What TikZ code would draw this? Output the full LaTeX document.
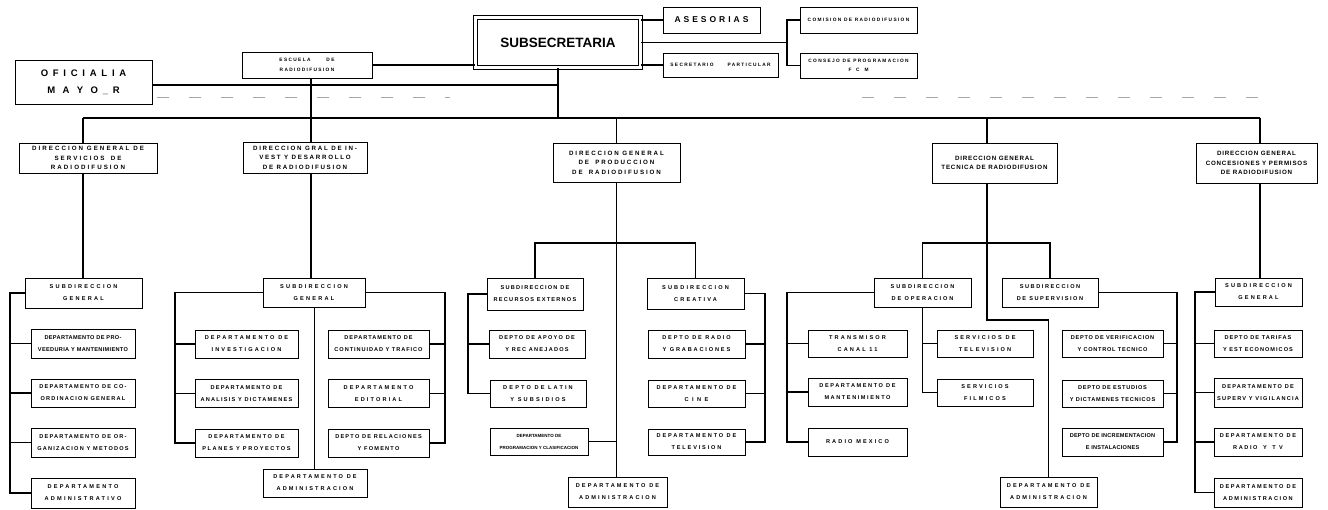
\documentclass[tikz,border=0pt]{standalone}
\usepackage{fontspec}
\newfontfamily\chartfont{Liberation Sans}
\begin{document}
\begin{tikzpicture}[x=1pt,y=-1pt,
  tracking/.style={font={\chartfont\bfseries\fontsize{5.6}{12}\selectfont\addfontfeature{LetterSpace=#1}}},
  tracking/.default=30,
  dtracking/.style={font={\chartfont\bfseries\fontsize{6.2}{9.5}\selectfont\addfontfeature{LetterSpace=#1}}},
  dtracking/.default=30,
  stracking/.style={font={\chartfont\bfseries\fontsize{4.8}{9.5}\selectfont\addfontfeature{LetterSpace=#1}}},
  stracking/.default=28,
  orgbox/.style={draw, line width=0.9pt, inner sep=0pt, align=center, tracking},
  dirbox/.style={orgbox, dtracking},
  smallbox/.style={orgbox, stracking},
  link/.style={line width=1.8pt},
  thinlink/.style={line width=0.9pt},
  faint/.style={gray!70, line width=0.7pt, dash pattern=on 12pt off 20pt}]
\useasboundingbox[fill=white] (0,0) rectangle (1328,509);

% ---------- top level ----------
\node[draw, double, double distance=3pt, line width=0.9pt, minimum width=165, minimum height=50,
  font={\chartfont\bfseries\fontsize{13.5}{14}\selectfont}] (subsec) at (558,42.5) {SUBSECRETARIA};
\node[orgbox, minimum width=97, minimum height=26,
  font={\chartfont\bfseries\fontsize{8.5}{10}\selectfont\addfontfeature{LetterSpace=35}}] (ases) at (711.5,20) {ASESORIAS};
\node[smallbox, minimum width=115, minimum height=24] (secpart) at (720.5,65) {SECRETARIO\hspace{14pt}PARTICULAR};
\node[smallbox, minimum width=117, minimum height=26] (comision) at (858.5,20) {COMISION DE RADIODIFUSION};
\node[smallbox, minimum width=117, minimum height=25] (consejo) at (858.5,65.5) {CONSEJO DE PROGRAMACION\\F\quad C\quad M};
\node[smallbox, minimum width=130, minimum height=26] (escuela) at (307,65) {ESCUELA\hspace{16pt}DE\\RADIODIFUSION};
\node[orgbox, minimum width=137, minimum height=44,
  font={\chartfont\bfseries\fontsize{9.5}{17}\selectfont\addfontfeature{LetterSpace=50}}] (oficialia) at (83.5,82) {OFICIALIA\\M A Y O\_R};

\coordinate (bus) at (0,118);
\coordinate (v1) at (83,0);
\coordinate (v2) at (311,0);
\coordinate (v3) at (616.5,0);
\coordinate (v4) at (987,0);
\coordinate (v5) at (1260,0);
\coordinate (cj) at (787,42.5);

% ---------- directorates ----------
\node[dirbox, dtracking=33, minimum width=138, minimum height=30] (d1) at (88,158) {DIRECCION GENERAL DE\\SERVICIOS\quad DE\\RADIODIFUSION};
\node[dirbox, dtracking=28, minimum width=124, minimum height=31] (d2) at (305,157.5) {DIRECCION GRAL DE IN-\\VEST Y DESARROLLO\\DE RADIODIFUSION};
\node[dirbox, minimum width=127, minimum height=39] (d3) at (616.5,162.5) {DIRECCION GENERAL\\DE\quad PRODUCCION\\DE\quad RADIODIFUSION};
\node[dirbox, dtracking=13, minimum width=125, minimum height=40] (d4) at (994.5,163) {DIRECCION GENERAL\\TECNICA DE RADIODIFUSION};
\node[dirbox, dtracking=13, minimum width=121, minimum height=40] (d5) at (1256.5,163) {DIRECCION GENERAL\\CONCESIONES Y PERMISOS\\DE RADIODIFUSION};

% ---------- column 1 ----------
\node[orgbox, tracking=40, minimum width=117, minimum height=30] (c1s) at (83.5,293) {SUBDIRECCION\\GENERAL};
\node[orgbox, tracking=6, minimum width=104, minimum height=29] (c1a) at (83,343.5) {DEPARTAMENTO DE PRO-\\VEEDURIA Y MANTENIMIENTO};
\node[orgbox, tracking=22, minimum width=104, minimum height=28] (c1b) at (83,393) {DEPARTAMENTO DE CO-\\ORDINACION GENERAL};
\node[orgbox, tracking=22, minimum width=104, minimum height=29] (c1c) at (83,442.5) {DEPARTAMENTO DE OR-\\GANIZACION Y METODOS};
\node[orgbox, tracking=40, minimum width=104, minimum height=30] (c1d) at (83,493) {DEPARTAMENTO\\ADMINISTRATIVO};

% ---------- column 2 ----------
\node[orgbox, tracking=40, minimum width=102, minimum height=29] (c2s) at (314,292.5) {SUBDIRECCION\\GENERAL};
\node[orgbox, tracking=38, minimum width=103, minimum height=28] (c2l1) at (246.5,344) {DEPARTAMENTO DE\\INVESTIGACION};
\node[orgbox, tracking=22, minimum width=103, minimum height=28] (c2l2) at (246.5,393.5) {DEPARTAMENTO DE\\ANALISIS Y DICTAMENES};
\node[orgbox, tracking=28, minimum width=103, minimum height=28] (c2l3) at (246.5,443) {DEPARTAMENTO DE\\PLANES Y PROYECTOS};
\node[orgbox, tracking=17, minimum width=101, minimum height=28] (c2r1) at (378.5,344) {DEPARTAMENTO DE\\CONTINUIDAD Y TRAFICO};
\node[orgbox, tracking=38, minimum width=101, minimum height=28] (c2r2) at (378.5,393.5) {DEPARTAMENTO\\EDITORIAL};
\node[orgbox, tracking=22, minimum width=101, minimum height=28] (c2r3) at (378.5,443) {DEPTO DE RELACIONES\\Y FOMENTO};
\node[orgbox, tracking=38, minimum width=104, minimum height=28] (c2adm) at (315,483) {DEPARTAMENTO DE\\ADMINISTRACION};

% ---------- column 3 ----------
\node[orgbox, tracking=22, minimum width=96, minimum height=32] (c3l) at (535,294) {SUBDIRECCION DE\\RECURSOS EXTERNOS};
\node[orgbox, tracking=22, minimum width=96, minimum height=28] (c3l1) at (537,344) {DEPTO DE APOYO DE\\Y REC ANEJADOS};
\node[orgbox, tracking=38, minimum width=96, minimum height=27] (c3l2) at (538,393.5) {DEPTO DE LATIN\\Y SUBSIDIOS};
\node[orgbox, font={\chartfont\bfseries\fontsize{4.5}{12}\selectfont}, minimum width=98, minimum height=27] (c3l3) at (539,441.5) {DEPARTAMENTO DE\\PROGRAMACION Y CLASIFICACION};
\node[orgbox, tracking=38, minimum width=97, minimum height=31] (c3r) at (695.5,293.5) {SUBDIRECCION\\CREATIVA};
\node[orgbox, tracking=33, minimum width=97, minimum height=28] (c3r1) at (696.5,344) {DEPTO DE RADIO\\Y GRABACIONES};
\node[orgbox, tracking=33, minimum width=97, minimum height=27] (c3r2) at (696.5,393.5) {DEPARTAMENTO DE\\C I N E};
\node[orgbox, tracking=33, minimum width=97, minimum height=26] (c3r3) at (696.5,442) {DEPARTAMENTO DE\\TELEVISION};
\node[orgbox, tracking=38, minimum width=99, minimum height=30] (c3adm) at (617.5,492) {DEPARTAMENTO DE\\ADMINISTRACION};

% ---------- column 4 ----------
\node[orgbox, tracking=33, minimum width=97, minimum height=29] (c4o) at (922.5,292.5) {SUBDIRECCION\\DE OPERACION};
\node[orgbox, tracking=28, minimum width=96, minimum height=29] (c4s) at (1050,292.5) {SUBDIRECCION\\DE SUPERVISION};
\node[orgbox, tracking=38, minimum width=99, minimum height=27] (c4l1) at (857.5,343.5) {TRANSMISOR\\CANAL 11};
\node[orgbox, tracking=28, minimum width=99, minimum height=28] (c4l2) at (857.5,392) {DEPARTAMENTO DE\\MANTENIMIENTO};
\node[orgbox, tracking=38, minimum width=99, minimum height=28] (c4l3) at (857.5,442) {RADIO MEXICO};
\node[orgbox, tracking=38, minimum width=96, minimum height=27] (c4m1) at (985,343.5) {SERVICIOS DE\\TELEVISION};
\node[orgbox, tracking=38, minimum width=96, minimum height=27] (c4m2) at (985,392.5) {SERVICIOS\\FILMICOS};
\node[orgbox, tracking=13, minimum width=101, minimum height=27] (c4r1) at (1112.5,343.5) {DEPTO DE VERIFICACION\\Y CONTROL TECNICO};
\node[orgbox, tracking=13, minimum width=101, minimum height=27] (c4r2) at (1112.5,393.5) {DEPTO DE ESTUDIOS\\Y DICTAMENES TECNICOS};
\node[orgbox, tracking=4, minimum width=101, minimum height=28] (c4r3) at (1112.5,442) {DEPTO DE INCREMENTACION\\E INSTALACIONES};
\node[orgbox, tracking=38, minimum width=97, minimum height=30] (c4adm) at (1048.5,492) {DEPARTAMENTO DE\\ADMINISTRACION};

% ---------- column 5 ----------
\node[orgbox, tracking=38, minimum width=87, minimum height=28] (c5s) at (1258.5,292) {SUBDIRECCION\\GENERAL};
\node[orgbox, tracking=18, minimum width=88, minimum height=27] (c5a) at (1258,343.5) {DEPTO DE TARIFAS\\Y EST ECONOMICOS};
\node[orgbox, tracking=22, minimum width=88, minimum height=29] (c5b) at (1258,392.5) {DEPARTAMENTO DE\\SUPERV Y VIGILANCIA};
\node[orgbox, tracking=28, minimum width=88, minimum height=28] (c5c) at (1258,442) {DEPARTAMENTO DE\\RADIO\quad Y\quad T V};
\node[orgbox, tracking=28, minimum width=88, minimum height=29] (c5d) at (1258,492.5) {DEPARTAMENTO DE\\ADMINISTRACION};

% ---------- top connectors ----------
\draw[link] (subsec.east |- ases.west) -- (ases.west);
\draw[link] (subsec.east |- secpart.west) -- (secpart.west);
\draw[link] (subsec.east) -- (cj);
\draw[link] (comision.west) -- (comision.west -| cj) |- (consejo.west);
\draw[link] (escuela.east) -- (escuela.east -| subsec.west);
\draw[link] (subsec.south) -- (subsec.south |- bus);
\draw[link] ([yshift=-3pt]oficialia.east) -- ([yshift=-3pt]oficialia.east -| subsec.south);
\draw[link] (escuela.south -| v2) -- (v2 |- d2.north);
\draw[link] (v1 |- bus) -- (v5 |- bus);
\draw[faint] (157,97) -- (450,97);
\draw[faint] (862,97) -- (1276,97);

% ---------- directorate drops ----------
\draw[link] (v1 |- bus) -- (v1 |- d1.north);
\draw[link] (v3 |- bus) -- (v3 |- d3.north);
\draw[link] (v4 |- bus) -- (v4 |- d4.north);
\draw[link] (v5 |- bus) -- (v5 |- d5.north);

% ---------- column 1 links ----------
\coordinate (c1sp) at (10,0);
\draw[link] (v1 |- d1.south) -- (v1 |- c1s.north);
\draw[link] (c1s.west) -- (c1s.west -| c1sp) |- (c1d.west);
\draw[link] (c1sp |- c1a.west) -- (c1a.west);
\draw[link] (c1sp |- c1b.west) -- (c1b.west);
\draw[link] (c1sp |- c1c.west) -- (c1c.west);

% ---------- column 2 links ----------
\coordinate (c2spl) at (175,0);
\coordinate (c2spr) at (445,0);
\draw[link] (v2 |- d2.south) -- (v2 |- c2s.north);
\draw[link] (c2s.west) -- (c2s.west -| c2spl) |- (c2l3.west);
\draw[link] (c2spl |- c2l1.west) -- (c2l1.west);
\draw[link] (c2spl |- c2l2.west) -- (c2l2.west);
\draw[link] (c2s.east) -- (c2s.east -| c2spr) |- (c2r3.east);
\draw[link] (c2spr |- c2r1.east) -- (c2r1.east);
\draw[link] (c2spr |- c2r2.east) -- (c2r2.east);
\draw[thinlink] (c2s.south) -- (c2s.south |- c2adm.north);

% ---------- column 3 links ----------
\coordinate (c3j) at (616.5,243);
\coordinate (c3spl) at (468,0);
\coordinate (c3spr) at (765,0);
\draw[link] (v3 |- d3.south) -- (c3j);
\draw[link] (c3l.north) |- (c3j) -| (c3r.north);
\draw[thinlink] (c3j) -- (c3j |- c3adm.north);
\draw[link] (c3l3.east) -- (c3l3.east -| c3j);
\draw[link] (c3l.west) -- (c3l.west -| c3spl) |- (c3l2.west);
\draw[link] (c3spl |- c3l1.west) -- (c3l1.west);
\draw[link] (c3r.east) -- (c3r.east -| c3spr) |- (c3r3.east);
\draw[link] (c3spr |- c3r1.east) -- (c3r1.east);
\draw[link] (c3spr |- c3r2.east) -- (c3r2.east);

% ---------- column 4 links ----------
\coordinate (c4j) at (987,243);
\coordinate (c4k) at (987,320);
\coordinate (c4spl) at (787,0);
\coordinate (c4spr) at (1177,0);
\draw[link] (v4 |- d4.south) -- (c4k) -| (c4adm.north);
\draw[link] (c4o.north) |- (c4j) -| (c4s.north);
\draw[link] (c4o.west) -- (c4o.west -| c4spl) |- (c4l3.west);
\draw[link] (c4spl |- c4l1.west) -- (c4l1.west);
\draw[link] (c4spl |- c4l2.west) -- (c4l2.west);
\draw[link] (c4o.south) |- (c4m2.west);
\draw[link] (c4o.south |- c4m1.west) -- (c4m1.west);
\draw[link] (c4s.east) -- (c4s.east -| c4spr) |- (c4r3.east);
\draw[link] (c4spr |- c4r1.east) -- (c4r1.east);
\draw[link] (c4spr |- c4r2.east) -- (c4r2.east);

% ---------- column 5 links ----------
\coordinate (c5sp) at (1195,0);
\draw[link] (v5 |- d5.south) -- (v5 |- c5s.north);
\draw[link] (c5s.west) -- (c5s.west -| c5sp) |- (c5d.west);
\draw[link] (c5sp |- c5a.west) -- (c5a.west);
\draw[link] (c5sp |- c5b.west) -- (c5b.west);
\draw[link] (c5sp |- c5c.west) -- (c5c.west);
\end{tikzpicture}
\end{document}
